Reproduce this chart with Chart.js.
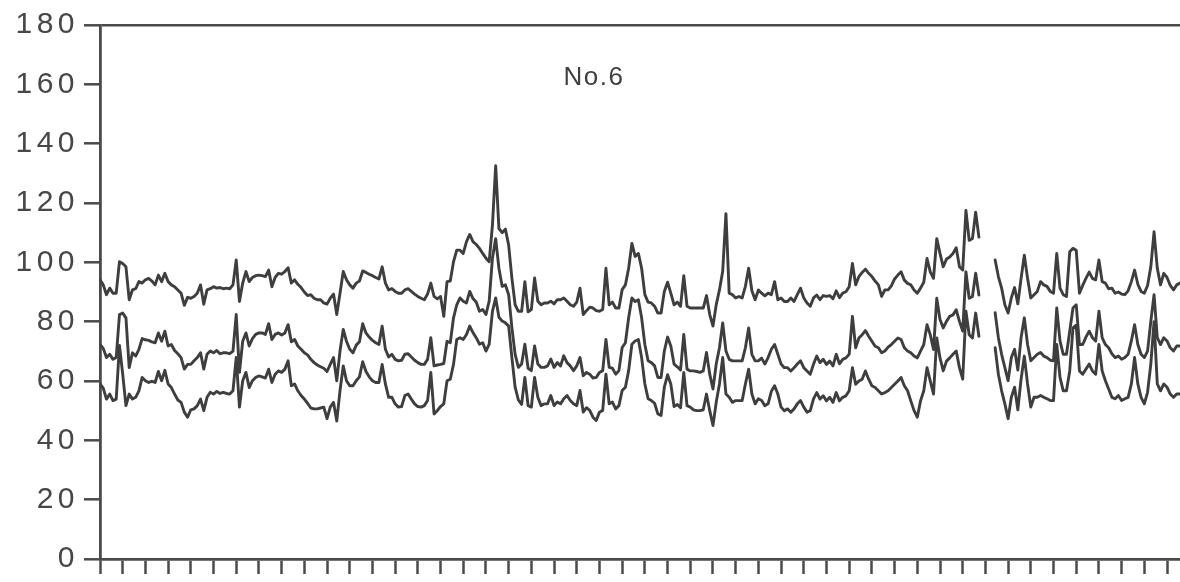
<!DOCTYPE html>
<html lang="en">
  <head>
    <meta charset="UTF-8" />
    <title>No.6</title>
    <style>
      body { margin: 0; background: #fff; }
    </style>
  </head>
  <body>
    <canvas id="myChart" width="1180" height="582"></canvas>
    <script src="https://cdn.jsdelivr.net/npm/chart.js"></script>
    <script>
      // one value per day, ticks on the x axis every 7 days
      const days = Array.from({ length: 334 }, (_, i) => i);
      const panelTitle = "No.6";

      const upper = [
        94.1, 92.4, 89.1, 91.3, 89.6, 89.6, 100.2, 99.6, 98.5, 87.4,
        90.7, 91.1, 93.5, 93.0, 94.1, 94.6, 93.7, 92.4, 95.7, 93.5,
        96.3, 93.5, 92.4, 91.8, 90.7, 89.6, 85.5, 88.2, 87.9, 88.5,
        89.6, 92.4, 85.9, 90.7, 91.1, 91.8, 91.3, 91.5, 91.1, 91.3,
        91.1, 92.4, 100.8, 86.8, 93.0, 96.9, 93.5, 94.9, 95.5, 95.7,
        95.5, 95.2, 97.4, 91.8, 94.9, 96.3, 96.0, 96.9, 98.2, 93.0,
        94.1, 92.6, 91.5, 90.0, 88.8, 89.1, 87.9, 87.4, 87.4, 86.3,
        85.9, 87.9, 89.3, 82.4, 89.6, 96.9, 94.1, 92.4, 91.3, 93.0,
        93.7, 97.1, 96.6, 96.0, 95.5, 94.9, 94.4, 98.5, 93.0, 90.7,
        91.1, 90.2, 89.6, 89.6, 90.7, 91.1, 90.2, 89.3, 88.5, 87.9,
        87.4, 89.3, 93.0, 88.5, 87.7, 88.5, 81.8, 93.5, 93.7, 100.2,
        104.1, 104.1, 103.0, 107.0, 109.4, 107.0, 106.0, 104.7, 103.0, 101.4,
        100.2, 112.5, 132.6, 111.4, 110.0, 111.2, 105.8, 94.7, 85.7, 83.5,
        83.5, 93.5, 83.3, 84.1, 94.7, 86.9, 85.7, 86.3, 86.3, 86.9,
        86.0, 87.4, 87.4, 88.0, 86.9, 85.7, 85.2, 86.6, 91.3, 82.4,
        83.7, 84.9, 84.6, 83.7, 83.5, 84.1, 98.0, 85.7, 86.6, 84.6,
        84.6, 90.8, 92.4, 98.0, 106.4, 102.0, 103.0, 98.0, 89.1, 86.6,
        86.3, 85.2, 82.9, 82.9, 90.2, 93.3, 89.6, 85.7, 86.6, 85.2,
        95.5, 85.2, 84.6, 84.6, 84.6, 84.6, 84.6, 88.8, 82.4, 78.5,
        85.7, 90.7, 97.0, 116.4, 89.6, 89.1, 88.0, 88.5, 88.0, 91.9,
        98.0, 90.4, 87.4, 90.7, 89.6, 88.7, 89.6, 89.1, 93.5, 87.4,
        88.0, 86.8, 86.8, 88.0, 86.8, 89.1, 91.3, 88.0, 86.3, 85.2,
        88.0, 89.0, 87.4, 88.8, 88.5, 88.8, 87.7, 90.4, 88.1, 89.6,
        90.1, 91.8, 99.6, 92.4, 95.2, 96.6, 97.7, 96.3, 95.2, 93.7,
        92.4, 88.5, 90.7, 90.7, 92.1, 94.4, 95.7, 96.8, 94.0, 92.9,
        92.4, 90.7, 89.6, 91.3, 93.3, 101.3, 96.8, 94.6, 108.0, 103.0,
        98.5, 101.1, 101.8, 103.0, 104.9, 98.5, 97.4, 117.5, 107.4, 108.0,
        116.9, 108.5, null, null, null, null, 100.8, 95.2, 91.3, 85.7,
        82.9, 88.0, 91.5, 86.0, 94.6, 102.4, 94.6, 88.0, 89.1, 90.2,
        93.5, 92.4, 91.9, 90.2, 89.6, 103.0, 91.3, 89.1, 88.5, 103.6,
        104.7, 104.1, 89.6, 92.2, 94.6, 96.7, 94.6, 94.1, 100.8, 93.5,
        93.0, 91.1, 91.3, 89.6, 90.0, 89.3, 89.1, 90.4, 93.5, 97.4,
        92.6, 90.2, 89.6, 92.2, 98.5, 110.3, 98.0, 92.4, 96.3, 94.9,
        92.2, 90.7, 92.4, 93.0
      ];

      const middle = [
        72.3, 71.0, 67.9, 69.0, 67.3, 67.9, 82.4, 82.9, 81.3, 64.5,
        69.5, 68.4, 70.7, 74.3, 73.9, 73.7, 73.2, 72.9, 76.2, 73.4,
        76.8, 71.8, 72.3, 70.3, 69.2, 67.9, 64.0, 65.6, 65.6, 66.8,
        67.9, 69.5, 64.0, 69.0, 70.1, 69.5, 70.3, 69.2, 69.5, 69.5,
        69.2, 70.1, 82.4, 62.9, 73.4, 76.2, 71.8, 74.3, 75.7, 76.2,
        76.2, 75.7, 79.3, 74.0, 75.7, 76.2, 75.5, 76.2, 79.0, 73.2,
        74.0, 71.8, 70.7, 69.5, 68.8, 67.3, 66.2, 65.4, 64.8, 64.3,
        63.2, 65.6, 67.9, 60.1, 70.1, 77.4, 73.4, 70.7, 69.5, 72.1,
        73.2, 79.3, 76.2, 74.8, 73.7, 72.9, 72.3, 78.5, 70.7, 68.1,
        69.0, 67.3, 66.8, 67.0, 69.0, 69.2, 68.1, 67.0, 66.2, 65.6,
        65.6, 67.3, 74.6, 65.1, 65.4, 65.6, 65.9, 73.4, 72.9, 81.3,
        85.7, 88.0, 86.9, 86.3, 90.2, 87.8, 86.6, 83.5, 84.1, 82.4,
        86.9, 101.4, 108.0, 98.0, 91.9, 92.4, 89.1, 78.0, 69.0, 64.6,
        65.7, 72.4, 64.3, 63.5, 71.8, 65.7, 64.6, 64.6, 65.1, 67.4,
        64.6, 66.2, 65.1, 68.5, 66.2, 65.1, 63.5, 65.1, 67.9, 61.8,
        62.9, 62.3, 61.0, 61.2, 62.9, 63.5, 74.0, 64.6, 64.3, 62.3,
        63.5, 71.3, 72.9, 81.3, 88.0, 86.8, 87.4, 81.3, 72.3, 66.8,
        66.2, 65.1, 61.2, 61.2, 70.1, 74.8, 71.8, 65.7, 64.8, 63.7,
        75.7, 64.0, 63.4, 63.4, 63.2, 62.9, 63.4, 69.6, 62.3, 57.3,
        65.7, 71.2, 79.6, 70.1, 67.3, 66.8, 66.8, 66.8, 66.8, 71.2,
        77.9, 69.0, 66.8, 66.8, 67.7, 65.7, 67.9, 70.7, 72.3, 69.0,
        65.7, 64.5, 64.5, 63.4, 64.5, 65.7, 66.8, 64.5, 63.4, 62.3,
        65.7, 68.4, 66.2, 67.3, 65.6, 66.7, 65.1, 69.0, 65.8, 67.3,
        67.8, 69.0, 81.8, 71.2, 74.5, 75.6, 77.0, 75.1, 73.4, 71.7,
        71.2, 69.5, 70.1, 71.4, 72.3, 73.4, 74.5, 74.0, 71.2, 70.1,
        69.5, 68.4, 67.8, 70.1, 72.3, 79.0, 75.6, 70.6, 87.9, 80.7,
        77.9, 80.1, 81.8, 82.3, 84.0, 80.1, 76.8, 96.8, 87.9, 88.5,
        96.3, 89.0, null, null, null, null, 83.0, 74.6, 69.0, 64.5,
        60.1, 67.9, 70.7, 63.7, 74.6, 81.3, 72.3, 66.8, 67.9, 69.0,
        69.6, 68.4, 67.9, 67.0, 66.8, 84.6, 73.5, 69.0, 69.0, 76.8,
        84.6, 85.7, 72.3, 72.3, 74.8, 76.8, 74.6, 73.5, 83.5, 74.6,
        72.3, 71.2, 69.2, 67.9, 68.4, 67.3, 67.9, 69.0, 73.5, 79.0,
        72.3, 69.0, 67.9, 70.1, 80.1, 89.1, 74.6, 72.3, 74.6, 73.5,
        71.2, 70.1, 71.8, 71.8
      ];

      const lower = [
        59.0, 57.6, 53.9, 55.6, 53.4, 53.9, 72.0, 62.3, 51.7, 55.6,
        53.9, 54.5, 56.7, 61.2, 60.1, 59.5, 59.9, 59.5, 63.2, 60.1,
        63.6, 59.0, 57.8, 55.6, 53.6, 52.8, 49.5, 47.8, 50.3, 50.6,
        51.7, 53.9, 50.0, 54.5, 56.2, 55.6, 56.5, 55.8, 56.2, 55.8,
        55.6, 56.7, 67.9, 51.2, 60.1, 62.9, 57.8, 60.1, 61.2, 61.7,
        61.4, 61.0, 64.0, 59.5, 62.3, 63.4, 62.9, 64.0, 66.8, 58.4,
        59.0, 56.7, 55.1, 53.9, 52.5, 50.9, 50.6, 50.6, 50.9, 51.2,
        47.3, 51.2, 52.8, 46.5, 56.7, 65.1, 60.1, 58.4, 58.4, 60.1,
        61.4, 66.5, 63.2, 61.4, 60.1, 59.5, 59.5, 65.6, 59.0, 54.5,
        54.5, 52.3, 51.2, 51.4, 55.1, 55.6, 53.9, 52.3, 51.4, 51.2,
        51.7, 53.4, 62.9, 48.9, 50.0, 51.4, 52.3, 60.1, 60.6, 65.6,
        74.0, 74.6, 74.0, 75.7, 78.5, 76.3, 74.6, 72.4, 72.9, 70.1,
        72.4, 83.5, 88.0, 81.5, 80.2, 79.6, 78.5, 67.9, 57.9, 53.6,
        52.1, 61.2, 51.7, 51.2, 61.2, 54.5, 51.7, 52.3, 52.3, 55.1,
        51.7, 52.9, 52.3, 54.0, 55.1, 53.4, 52.3, 51.7, 56.8, 49.5,
        51.0, 50.1, 47.8, 46.7, 49.5, 50.1, 62.3, 52.3, 52.9, 50.6,
        51.7, 56.8, 57.9, 63.5, 72.4, 73.5, 74.0, 67.9, 59.0, 54.0,
        53.4, 52.5, 48.9, 48.4, 57.9, 62.1, 59.0, 51.4, 52.1, 51.0,
        62.9, 51.7, 51.2, 50.3, 50.0, 50.0, 50.3, 55.6, 50.0, 45.0,
        52.8, 59.0, 67.9, 55.6, 54.5, 52.8, 53.4, 53.4, 53.4, 59.0,
        64.0, 55.6, 52.3, 54.0, 53.4, 51.7, 52.3, 56.5, 58.4, 55.6,
        51.2, 50.0, 50.6, 49.5, 50.6, 52.3, 53.4, 51.2, 49.5, 50.0,
        54.0, 56.1, 53.9, 55.0, 53.3, 54.5, 52.8, 56.1, 53.3, 54.5,
        55.0, 56.7, 64.5, 58.9, 60.0, 60.6, 63.4, 60.6, 58.4, 57.8,
        56.7, 55.6, 56.1, 56.7, 57.8, 58.9, 60.0, 61.2, 58.4, 56.7,
        53.3, 50.0, 47.8, 53.3, 56.7, 64.5, 60.0, 55.6, 74.5, 67.8,
        63.4, 66.7, 67.8, 69.0, 70.1, 64.5, 60.6, 83.5, 75.6, 74.5,
        82.9, 75.1, null, null, null, null, 71.2, 62.3, 56.7, 52.3,
        47.3, 54.5, 57.9, 50.3, 60.6, 68.4, 59.0, 51.2, 54.5, 54.5,
        55.1, 54.5, 54.0, 53.4, 53.4, 72.3, 61.2, 56.7, 56.7, 63.4,
        77.9, 78.8, 63.4, 62.3, 64.0, 65.7, 63.4, 62.3, 72.3, 63.4,
        60.1, 57.3, 54.5, 54.0, 55.1, 53.4, 54.0, 54.5, 59.0, 67.9,
        59.0, 54.5, 52.3, 56.2, 65.7, 80.0, 59.0, 56.7, 59.0, 57.9,
        55.6, 54.5, 55.6, 55.6
      ];

      const ink = "#3e3e3e";
      const axisInk = "#4a4a4a";
      const font = "'Liberation Sans', Arial, sans-serif";

      // wide spaced digits like the printed figure
      const spacing = {
        id: "spacing",
        beforeDraw(chart) {
          chart.ctx.letterSpacing = "4.5px";
        },
      };

      const panelLabel = {
        id: "panelLabel",
        afterDatasetsDraw(chart) {
          const c = chart.ctx;
          c.save();
          c.letterSpacing = "1.5px";
          c.font = "26px " + font;
          c.fillStyle = "#404040";
          c.textAlign = "center";
          c.textBaseline = "alphabetic";
          c.fillText(panelTitle, 594, 85);
          c.restore();
        },
      };

      const ctx = document.getElementById("myChart").getContext("2d");
      const myChart = new Chart(ctx, {
        type: "line",
        data: {
          labels: days,
          datasets: [
            { data: upper, borderColor: ink, borderWidth: 2.9 },
            { data: middle, borderColor: ink, borderWidth: 2.9 },
            { data: lower, borderColor: ink, borderWidth: 2.9 },
          ],
        },
        options: {
          responsive: false,
          animation: false,
          events: [],
          layout: { padding: { top: 25, right: 0, bottom: 0, left: 0 } },
          elements: {
            point: { radius: 0 },
            line: { tension: 0, borderCapStyle: "round", borderJoinStyle: "round" },
          },
          plugins: {
            legend: { display: false },
            tooltip: { enabled: false },
          },
          scales: {
            x: {
              type: "linear",
              min: 0,
              max: 333,
              ticks: { display: false, stepSize: 7, includeBounds: false },
              grid: {
                drawOnChartArea: false,
                drawTicks: true,
                tickLength: 15,
                tickWidth: 2.5,
                tickColor: axisInk,
              },
              border: { color: axisInk, width: 2.8 },
              afterFit(scale) {
                scale.height = 19;
              },
            },
            y: {
              min: 0,
              max: 180,
              ticks: {
                stepSize: 20,
                color: "#474747",
                padding: 5,
                font: { family: font, size: 30 },
              },
              grid: {
                color: (c) => (c.tick && c.tick.value === 180 ? axisInk : "transparent"),
                lineWidth: 2.6,
                tickLength: 16,
                tickWidth: 2.5,
                tickColor: axisInk,
              },
              border: { color: axisInk, width: 2.8 },
              afterFit(scale) {
                scale.width = 100;
              },
            },
          },
        },
        plugins: [spacing, panelLabel],
      });
    </script>
  </body>
</html>
